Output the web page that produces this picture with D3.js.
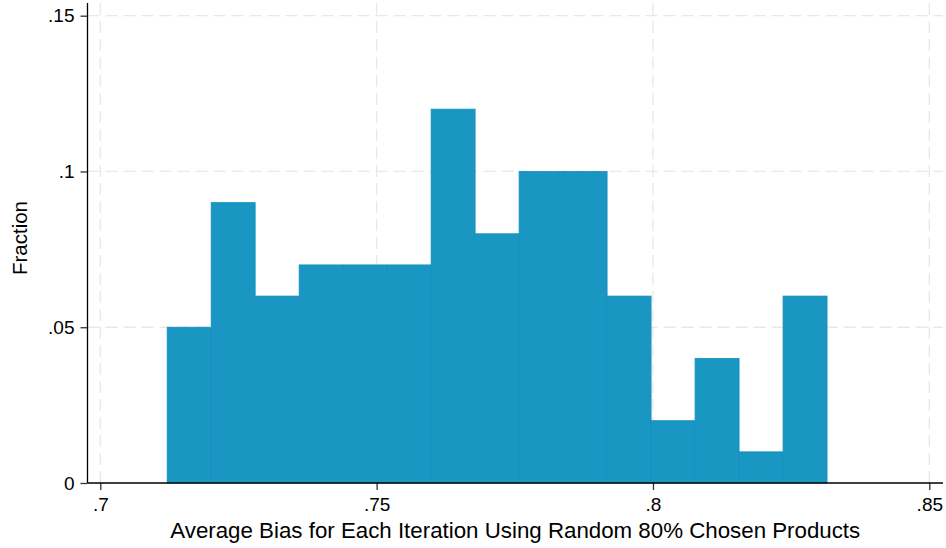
<!DOCTYPE html>
<html>
<head>
<meta charset="utf-8">
<script src="https://cdn.jsdelivr.net/npm/d3@7"></script>
<style>
  html, body { margin: 0; padding: 0; background: #fff; }
  svg { display: block; font-family: "Liberation Sans", Arial, Helvetica, sans-serif; }
</style>
</head>
<body>
<svg id="chart" width="946" height="548"></svg>
<script>
// Histogram bins: start of first bin, common bin width, fraction in each bin
const binStart = 0.7121;
const binWidth = 0.00796;
const fractions = [0.05, 0.09, 0.06, 0.07, 0.07, 0.07, 0.12, 0.08, 0.10, 0.10, 0.06, 0.02, 0.04, 0.01, 0.06];

const xTicks = [0.7, 0.75, 0.8, 0.85];
const xTickLabels = [".7", ".75", ".8", ".85"];
const yTicks = [0, 0.05, 0.1, 0.15];
const yTickLabels = ["0", ".05", ".1", ".15"];

const xTitle = "Average Bias for Each Iteration Using Random 80% Chosen Products";
const yTitle = "Fraction";

const svg = d3.select("#chart");
const plot = { left: 87.5, right: 943, top: 3, bottom: 483 };

const x = d3.scaleLinear().domain([0.7, 0.85]).range([100.3, 929.3]);
const y = d3.scaleLinear().domain([0, 0.15]).range([483, 15.7]);

const bins = fractions.map((v, i) => ({ x0: binStart + i * binWidth, x1: binStart + (i + 1) * binWidth, v }));

// dashed grid lines
const grid = svg.append("g");
grid.selectAll("line.gy").data(yTicks.filter(t => t > 0)).join("line")
  .attr("x1", plot.left).attr("x2", plot.right)
  .attr("y1", d => y(d)).attr("y2", d => y(d))
  .attr("stroke", "#e8e8e8").attr("stroke-width", 1.3).attr("stroke-dasharray", "12,6");
grid.selectAll("line.gx").data(xTicks).join("line")
  .attr("x1", d => x(d)).attr("x2", d => x(d))
  .attr("y1", plot.top).attr("y2", plot.bottom)
  .attr("stroke", "#e8e8e8").attr("stroke-width", 1.3).attr("stroke-dasharray", "12,6");

// bars
svg.append("g").selectAll("rect").data(bins).join("rect")
  .attr("x", d => x(d.x0))
  .attr("width", d => x(d.x1) - x(d.x0))
  .attr("y", d => y(d.v))
  .attr("height", d => y(0) - y(d.v))
  .attr("fill", "#1a96c3")
  .attr("stroke", "#1590bd")
  .attr("stroke-width", 0.8);

// axes
const tickFont = 19;
const xAxis = d3.axisBottom(x).tickValues(xTicks).tickFormat((d, i) => xTickLabels[i]).tickSize(7).tickSizeOuter(0);
const gx = svg.append("g").attr("transform", `translate(0,${plot.bottom})`).call(xAxis);
gx.select(".domain").remove();
gx.append("line").attr("x1", plot.left).attr("x2", plot.right).attr("y1", 0).attr("y2", 0)
  .attr("stroke", "#000").attr("stroke-width", 1.3);
gx.selectAll(".tick line").attr("stroke", "#333").attr("stroke-width", 1.3);
gx.selectAll(".tick text").attr("font-size", tickFont).attr("fill", "#000")
  .attr("dy", null).attr("y", 28)
  .attr("font-family", "Liberation Sans, Arial, sans-serif");

const yAxis = d3.axisLeft(y).tickValues(yTicks).tickFormat((d, i) => yTickLabels[i]).tickSize(7).tickSizeOuter(0);
const gy = svg.append("g").attr("transform", `translate(${plot.left},0)`).call(yAxis);
gy.select(".domain").remove();
gy.append("line").attr("x1", 0).attr("x2", 0).attr("y1", plot.top).attr("y2", plot.bottom)
  .attr("stroke", "#000").attr("stroke-width", 1.3);
gy.selectAll(".tick line").attr("stroke", "#333").attr("stroke-width", 1.3);
gy.selectAll(".tick text").attr("font-size", tickFont).attr("fill", "#000").attr("x", -13)
  .attr("font-family", "Liberation Sans, Arial, sans-serif");

// axis titles
svg.append("text").attr("x", (plot.left + plot.right) / 2).attr("y", 538)
  .attr("text-anchor", "middle").attr("font-size", 22.3).attr("fill", "#000").text(xTitle);
svg.append("text").attr("transform", `translate(27,238) rotate(-90)`)
  .attr("text-anchor", "middle").attr("font-size", 20.5).attr("fill", "#000").text(yTitle);
</script>
</body>
</html>
